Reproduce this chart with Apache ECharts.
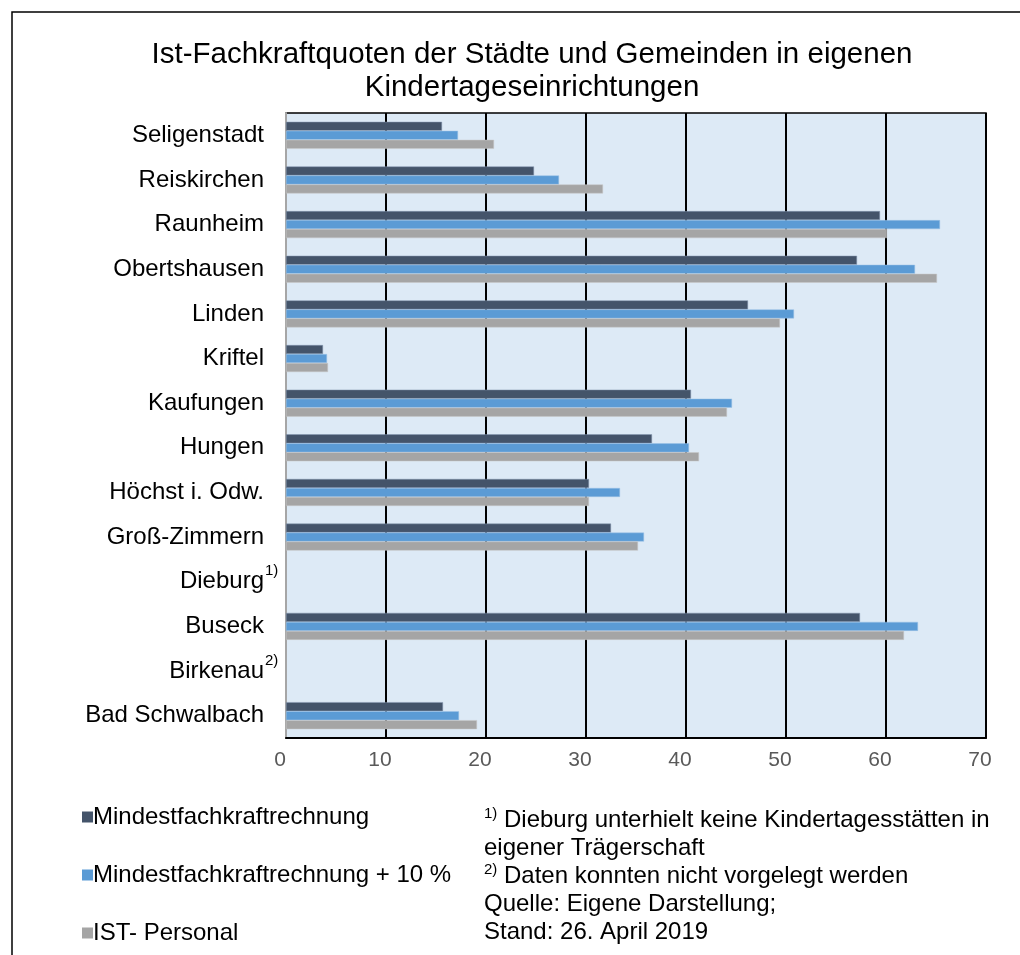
<!DOCTYPE html>
<html>
<head>
<meta charset="utf-8">
<script src="https://cdn.jsdelivr.net/npm/echarts@6/dist/echarts.min.js"></script>
<style>
  html, body { margin: 0; padding: 0; background: #fff; }
  #chart { width: 1020px; height: 955px; }
</style>
</head>
<body>
<div id="chart"></div>
<script>
// Kategorien von oben nach unten
var staedte = ['Seligenstadt', 'Reiskirchen', 'Raunheim', 'Obertshausen', 'Linden', 'Kriftel',
  'Kaufungen', 'Hungen', 'Höchst i. Odw.', 'Groß-Zimmern', 'Dieburg', 'Buseck', 'Birkenau', 'Bad Schwalbach'];
var fussnoten = { 'Dieburg': '1)', 'Birkenau': '2)' };

var mindest   = [15.6, 24.8, 59.4, 57.1, 46.2, 3.7, 40.5, 36.6, 30.3, 32.5, null, 57.4, null, 15.7];
var mindest10 = [17.2, 27.3, 65.4, 62.9, 50.8, 4.1, 44.6, 40.3, 33.4, 35.8, null, 63.2, null, 17.3];
var istPers   = [20.8, 31.7, 60.1, 65.1, 49.4, 4.2, 44.1, 41.3, 30.3, 35.2, null, 61.8, null, 19.1];

var xTicks = [0, 10, 20, 30, 40, 50, 60, 70];

var font = '"Liberation Sans", Arial, Helvetica, sans-serif';

var chart = echarts.init(document.getElementById('chart'));

var option = {
  textStyle: { fontFamily: font },
  animation: false,
  title: {
    text: 'Ist-Fachkraftquoten der Städte und Gemeinden in eigenen\nKindertageseinrichtungen',
    left: 527,
    textAlign: 'center',
    top: 33,
    textStyle: { fontSize: 29.5, fontWeight: 'normal', color: '#000', lineHeight: 33, fontFamily: font }
  },
  legend: {
    orient: 'vertical',
    left: 77,
    top: 800,
    itemWidth: 11,
    itemHeight: 11,
    itemGap: 34,
    icon: 'rect',
    itemStyle: { borderWidth: 0 },
    textStyle: { fontSize: 24, color: '#000', lineHeight: 24, padding: [0, 0, 0, -5] },
    data: ['Mindestfachkraftrechnung', 'Mindestfachkraftrechnung + 10 %', 'IST- Personal']
  },
  grid: {
    left: 286, right: 34, top: 113, bottom: 217,
    show: true,
    backgroundColor: '#DDEAF6',
    borderColor: '#000',
    borderWidth: 1.5
  },
  xAxis: {
    type: 'value',
    min: xTicks[0],
    max: xTicks[xTicks.length - 1],
    interval: 10,
    axisLine: { show: true, lineStyle: { color: '#000', width: 2 } },
    axisTick: { show: false },
    splitLine: { show: true, lineStyle: { color: '#000', width: 2 } },
    axisLabel: { fontSize: 21, color: '#595959', margin: 12, padding: [0, 12, 0, 0] }
  },
  yAxis: {
    type: 'category',
    inverse: true,
    data: staedte,
    axisLine: { show: true, lineStyle: { color: '#A6A6A6', width: 2 } },
    axisTick: { show: false },
    axisLabel: { fontSize: 24, color: '#000', margin: 22 }
  },
  series: [
    { name: 'Mindestfachkraftrechnung', type: 'bar', data: mindest, barWidth: 9, barGap: '0%',
      itemStyle: { color: '#44546A', borderColor: '#8497B0', borderWidth: 0.5 } },
    { name: 'Mindestfachkraftrechnung + 10 %', type: 'bar', data: mindest10, barWidth: 9, barGap: '0%',
      itemStyle: { color: '#5B9BD5', borderColor: '#9DC3E6', borderWidth: 0.5 } },
    { name: 'IST- Personal', type: 'bar', data: istPers, barWidth: 9, barGap: '0%',
      itemStyle: { color: '#A5A5A5', borderColor: '#C9C9C9', borderWidth: 0.5 } }
  ]
};
chart.setOption(option);

// Fussnoten-Markierungen an den Achsenbeschriftungen + Rahmen + Anmerkungen
var graphics = [
  { type: 'rect', shape: { x: 12, y: 12, width: 1020, height: 960 },
    style: { fill: 'none', stroke: '#000', lineWidth: 1.5 }, silent: true }
];
Object.keys(fussnoten).forEach(function (name) {
  var y = chart.convertToPixel({ yAxisIndex: 0 }, name);
  graphics.push({
    type: 'text', left: 265, top: y - 18,
    style: { text: fussnoten[name], fontSize: 15, fill: '#000', fontFamily: font }
  });
});
graphics.push({
  type: 'text', left: 484, top: 806,
  style: {
    text: '{s|1)} Dieburg unterhielt keine Kindertagesstätten in\neigener Trägerschaft\n{s|2)} Daten konnten nicht vorgelegt werden\nQuelle: Eigene Darstellung;\nStand: 26. April 2019',
    fontSize: 24, lineHeight: 28, fill: '#000', fontFamily: font,
    rich: {
      s: { fontSize: 15, verticalAlign: 'top', lineHeight: 28, padding: [0, 0, 8, 0], fontFamily: font, fill: '#000' }
    }
  }
});
chart.setOption({ graphic: graphics });
</script>
</body>
</html>
